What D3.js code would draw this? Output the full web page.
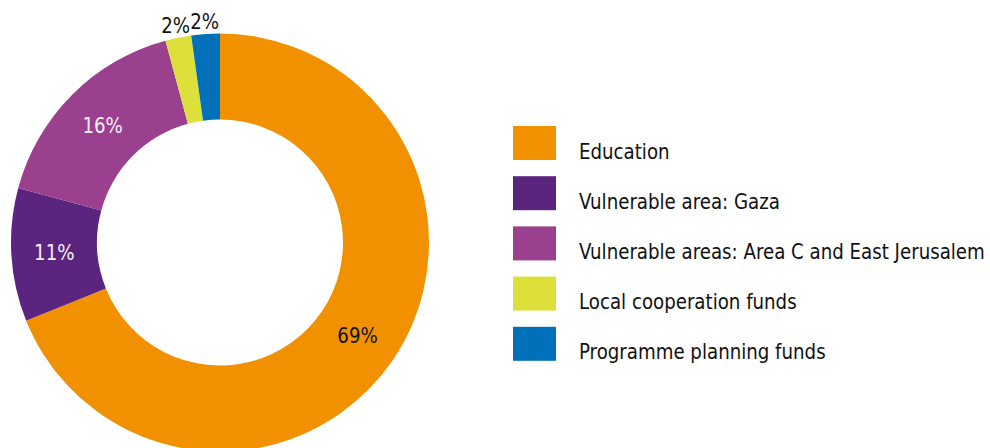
<!DOCTYPE html>
<html>
<head>
<meta charset="utf-8">
<script src="https://cdn.jsdelivr.net/npm/d3@7"></script>
<style>
  body { margin: 0; background: #fff; }
  svg text { font-family: "DejaVu Sans Condensed", "DejaVu Sans", sans-serif; }
</style>
</head>
<body>
<svg id="chart" width="990" height="448"></svg>
<script>
// categories and shares (percent)
var categories = ["Education", "Vulnerable area: Gaza", "Vulnerable areas: Area C and East Jerusalem", "Local cooperation funds", "Programme planning funds"];
var values = [68.9, 10.3, 16.6, 2.0, 2.2];
var valueLabels = ["69%", "11%", "16%", "2%", "2%"];
var colors = ["#f29100", "#5b247f", "#9b408e", "#dddf3a", "#0070ba"];

var svg = d3.select("#chart");

var cx = 220, cy = 242.5;
var outerR = 209, innerR = 123;

var data = categories.map(function(c, i) {
    return { name: c, value: values[i], label: valueLabels[i], color: colors[i] };
});

// clockwise from top: Education first, the rest go round back to top
var pie = d3.pie().sort(null).value(function(d) { return d.value; });
var arcs = pie(data);

var arc = d3.arc().innerRadius(innerR).outerRadius(outerR);
var outsideArc = d3.arc().innerRadius(222).outerRadius(222);

var g = svg.append("g").attr("transform", "translate(" + cx + "," + cy + ")");

g.selectAll("path")
    .data(arcs)
    .enter()
    .append("path")
    .attr("d", arc)
    .attr("fill", function(d) { return d.data.color; });

// legend first, so its width can set the squeeze of the text
var legend = svg.append("g").attr("transform", "translate(513,126)");
var step = 50.2;

legend.selectAll("rect")
    .data(data)
    .enter()
    .append("rect")
    .attr("x", 0)
    .attr("y", function(d, i) { return i * step; })
    .attr("width", 43)
    .attr("height", 34)
    .attr("fill", function(d) { return d.color; });

var legendText = legend.selectAll("text")
    .data(data)
    .enter()
    .append("text")
    .attr("font-size", 21)
    .attr("fill", "#111")
    .text(function(d) { return d.name; });

// the original face is narrower than anything installed, squeeze it
var widest = d3.max(legendText.nodes(), function(n) { return n.getComputedTextLength(); });
var sx = 406 / widest;

legendText.attr("transform", function(d, i) {
    return "translate(66," + (i * step + 32.5) + ") scale(" + sx + ",1)";
});

// small slices get their label outside the ring
g.selectAll("text.val")
    .data(arcs)
    .enter()
    .append("text")
    .attr("class", "val")
    .attr("transform", function(d) {
        var p = d.data.value < 5 ? outsideArc.centroid(d) : arc.centroid(d);
        return "translate(" + p[0] + "," + p[1] + ") scale(" + sx + ",1)";
    })
    .attr("text-anchor", "middle")
    .attr("dy", "0.36em")
    .attr("font-size", 21)
    .attr("fill", function(d) {
        return (d.data.name.indexOf("Vulnerable") === 0) ? "#f4f0f6" : "#111";
    })
    .text(function(d) { return d.data.label; });
</script>
</body>
</html>
